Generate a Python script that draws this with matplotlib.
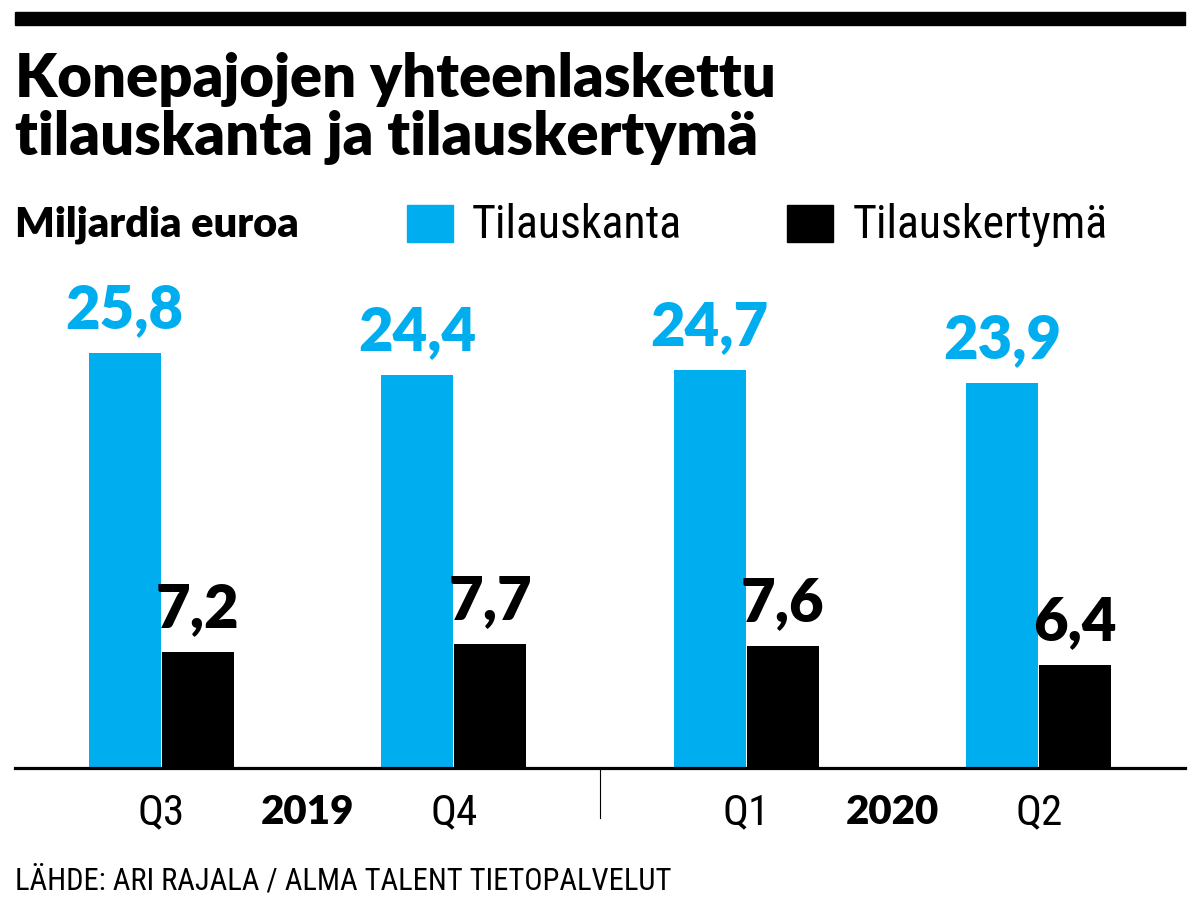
import matplotlib
matplotlib.use("Agg")
import matplotlib.pyplot as plt
from matplotlib.patches import Rectangle
from matplotlib.lines import Line2D

# data
quarters = ["Q3", "Q4", "Q1", "Q2"]
years = ["2019", "2020"]
tilauskanta = [25.8, 24.4, 24.7, 23.9]
tilauskertyma = [7.2, 7.7, 7.6, 6.4]
series_names = ["Tilauskanta", "Tilauskertymä"]

BLUE = "#00AEEF"
BOLD = ["Lato", "DejaVu Sans"]
NARROW = ["Roboto Condensed", "Liberation Sans Narrow", "Roboto", "DejaVu Sans"]

W, H = 1200, 900
fig = plt.figure(figsize=(12, 9), dpi=100)

def px(x, y):
    # pixel coords (from top-left) -> figure fraction
    return x / W, 1 - y / H

# axes: from x=15 to 1185 px, baseline at y=768 px, top at 250 px
ax = fig.add_axes([15 / W, 1 - 768 / H, 1170 / W, 518 / H])
ax.set_xlim(-0.5, 3.5)
ax.set_ylim(0, 518 / 16.1)

x = range(len(quarters))
bw = 0.245
off = 0.125
ax.bar([i - off for i in x], tilauskanta, width=bw, color=BLUE)
ax.bar([i + off for i in x], tilauskertyma, width=bw, color="black")

for i in x:
    ax.annotate(f"{tilauskanta[i]:.1f}".replace(".", ","), (i - off, tilauskanta[i]),
                xytext=(0, 18), textcoords="offset points", ha="center", va="baseline",
                fontsize=43, fontweight="heavy", color=BLUE, family=BOLD)
    ax.annotate(f"{tilauskertyma[i]:.1f}".replace(".", ","), (i + off, tilauskertyma[i]),
                xytext=(0, 18), textcoords="offset points", ha="center", va="baseline",
                fontsize=43, fontweight="heavy", color="black", family=BOLD)

for s in ["top", "right", "left"]:
    ax.spines[s].set_visible(False)
ax.spines["bottom"].set_linewidth(2.3)
ax.set_xticks([])
ax.set_yticks([])

# category labels under the axis
for i, q in enumerate(quarters):
    ax.text(i, -45 / 16.1, q, ha="center", va="center", fontsize=31,
            family=NARROW, clip_on=False)
for j, yr in enumerate(years):
    ax.text(0.5 + 2 * j, -45 / 16.1, yr, ha="center", va="center", fontsize=29,
            fontweight="heavy", family=BOLD, clip_on=False)
ax.add_line(Line2D([1.5, 1.5], [0, -50 / 16.1], color="black", lw=0.8, clip_on=False))

# top rule
fig.add_artist(Rectangle(px(15, 25), 1170 / W, 13 / H, color="black", transform=fig.transFigure))

# title
fig.text(*px(15, 97), "Konepajojen yhteenlaskettu", fontsize=43, fontweight="heavy",
         family=BOLD, va="baseline")
fig.text(*px(15, 155), "tilauskanta ja tilauskertymä", fontsize=43, fontweight="heavy",
         family=BOLD, va="baseline")

fig.text(*px(15, 236), "Miljardia euroa", fontsize=30, fontweight="heavy",
         family=BOLD, va="baseline")

# legend
fig.add_artist(Rectangle(px(407, 242), 46 / W, 37 / H, color=BLUE, transform=fig.transFigure))
fig.text(*px(472, 238), series_names[0], fontsize=33, family=NARROW, va="baseline")
fig.add_artist(Rectangle(px(787, 242), 46 / W, 37 / H, color="black", transform=fig.transFigure))
fig.text(*px(853, 238), series_names[1], fontsize=33, family=NARROW, va="baseline")

fig.text(*px(15, 890), "LÄHDE: ARI RAJALA / ALMA TALENT TIETOPALVELUT", fontsize=22,
         family=NARROW, va="baseline")

fig.savefig("out.png", dpi=100, facecolor="white")
